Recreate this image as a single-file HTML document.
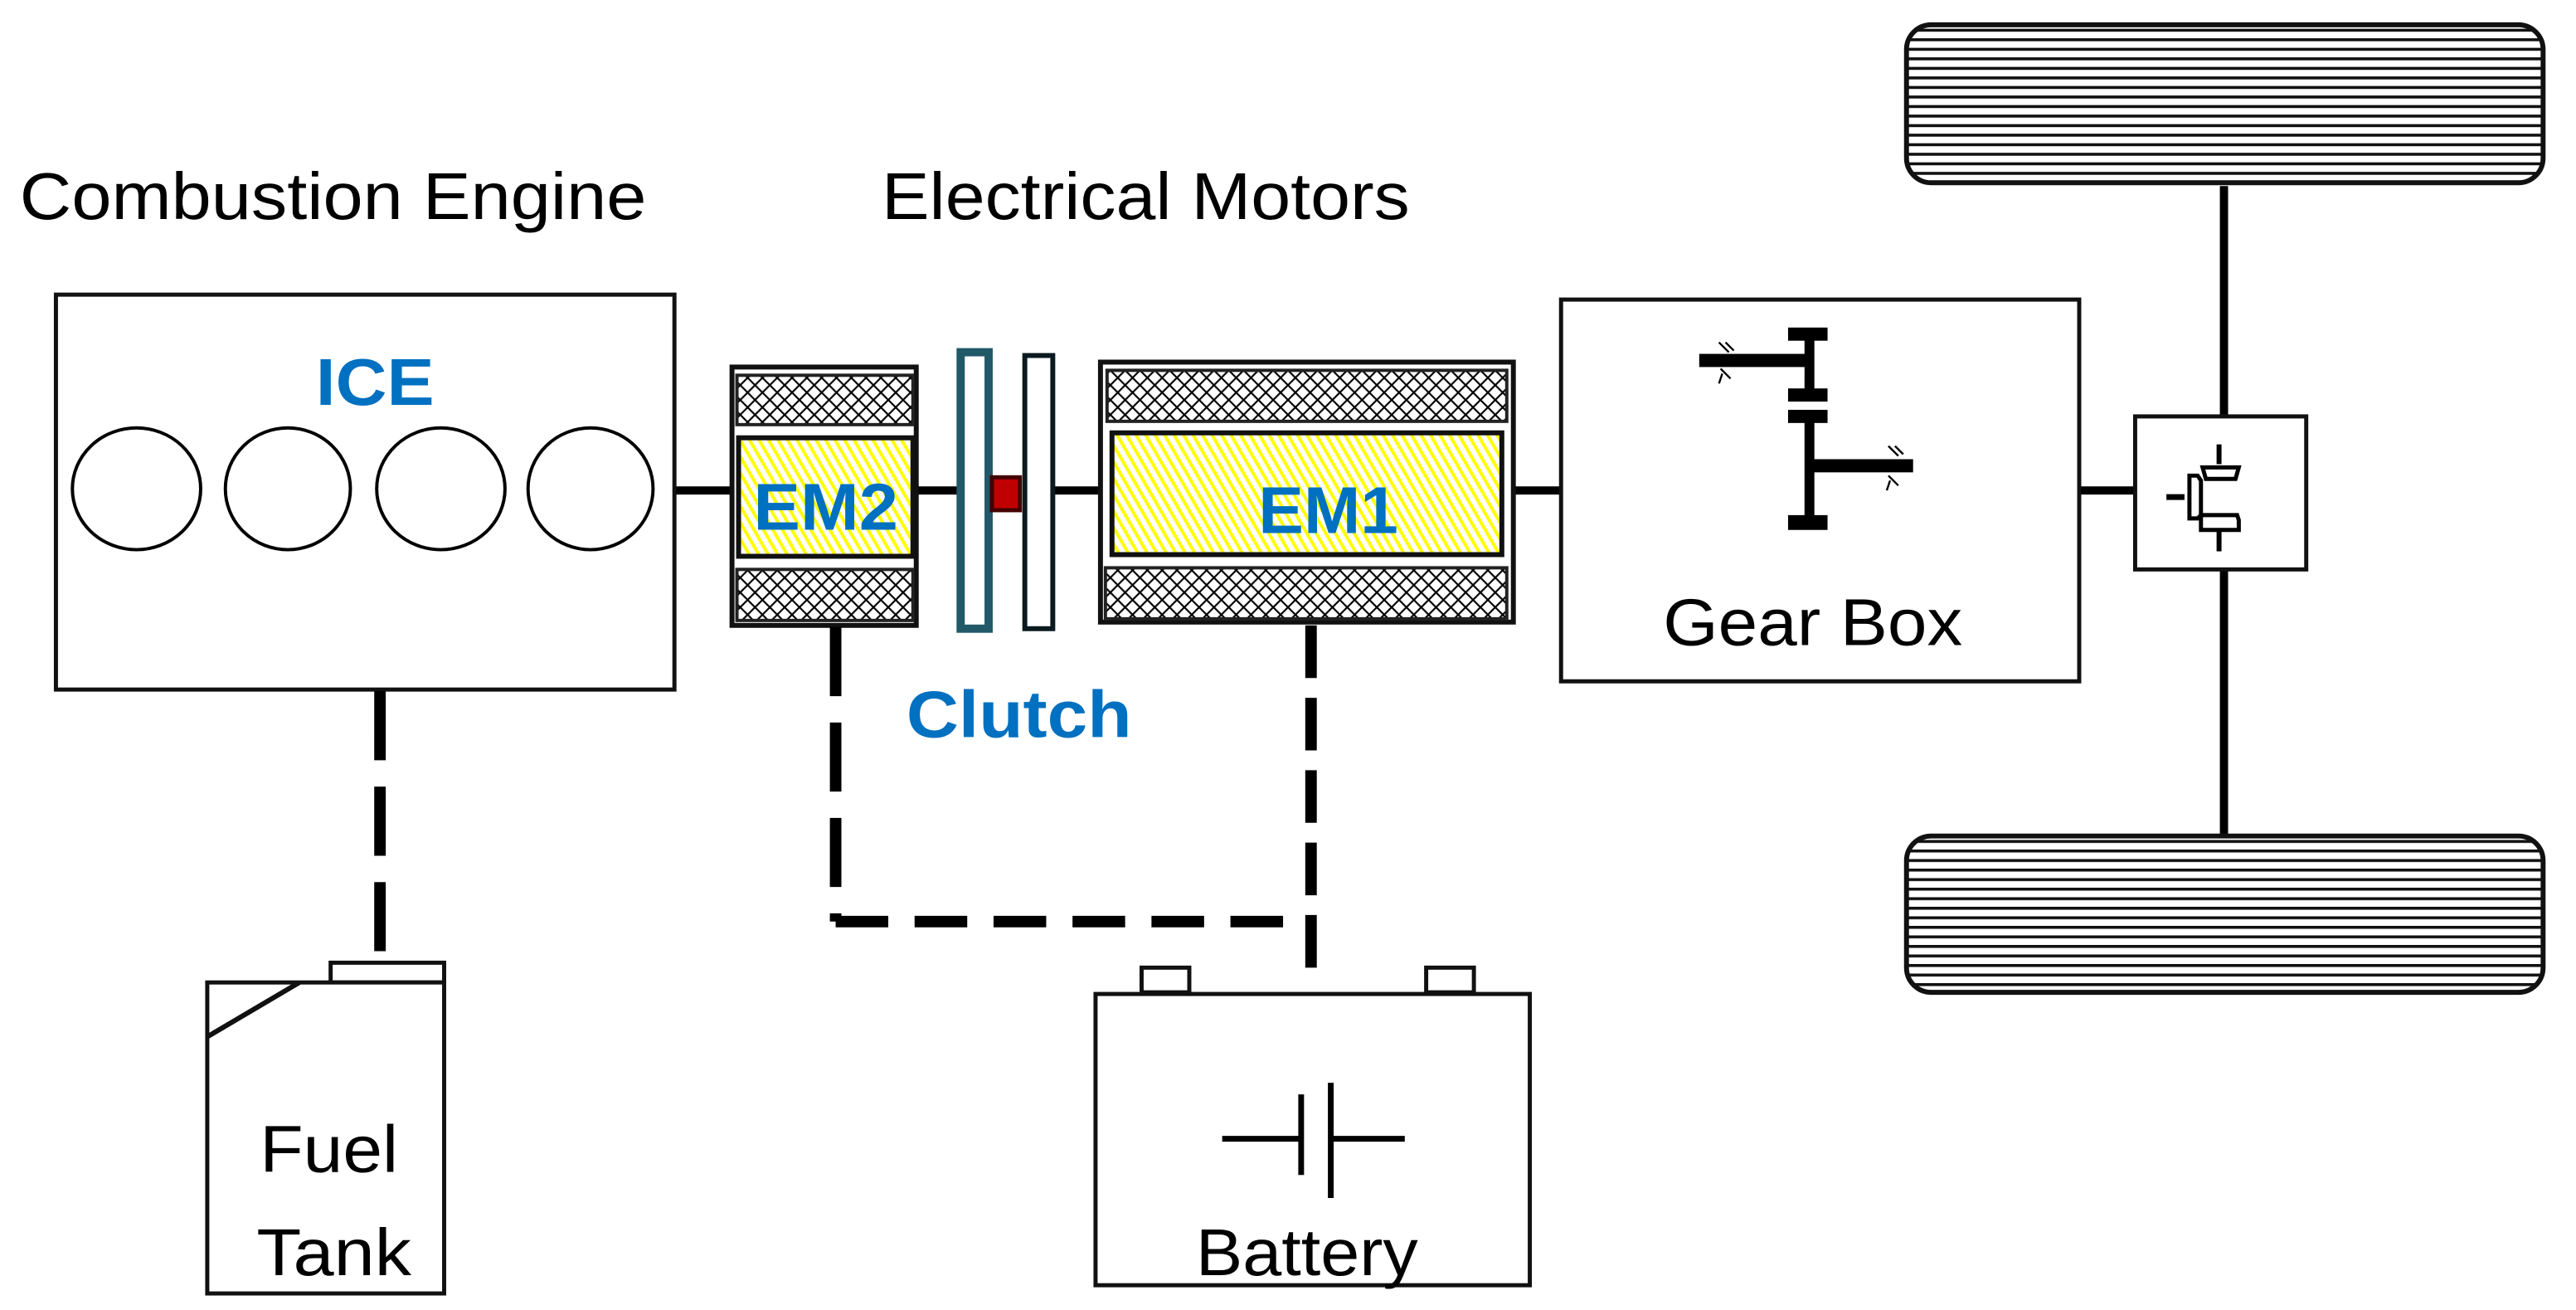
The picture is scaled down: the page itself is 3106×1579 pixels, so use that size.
<!DOCTYPE html>
<html><head><meta charset="utf-8"><style>
html,body{margin:0;padding:0;background:#fff;}
svg{display:block;}
text{font-family:"Liberation Sans",Arial,sans-serif;}
</style></head><body>
<svg width="3106" height="1579" viewBox="0 0 1566 796" xmlns="http://www.w3.org/2000/svg">
<defs>
<pattern id="xh" width="9" height="9" patternUnits="userSpaceOnUse">
<rect width="9" height="9" fill="#fff"/>
<path d="M0 0L9 9M9 0L0 9" stroke="#000" stroke-width="1.1"/>
</pattern>
<pattern id="yh" width="5" height="5" patternUnits="userSpaceOnUse" patternTransform="rotate(-30)">
<rect width="5" height="5" fill="#fff"/>
<rect width="2" height="5" fill="#ffff00"/>
</pattern>
<pattern id="tire" width="10" height="5.8" patternUnits="userSpaceOnUse">
<rect width="10" height="5.8" fill="#fff"/>
<rect y="0" width="10" height="1.8" fill="#111"/>
</pattern>
</defs>
<rect width="1566" height="796" fill="#fff"/>

<!-- titles -->
<text x="12" y="133" font-size="40" fill="#000" textLength="381" lengthAdjust="spacingAndGlyphs">Combustion Engine</text>
<text x="536" y="133" font-size="40" fill="#000" textLength="321" lengthAdjust="spacingAndGlyphs">Electrical Motors</text>

<!-- shafts -->
<g stroke="#000" stroke-width="5">
<line x1="411" y1="298" x2="445" y2="298"/>
<line x1="558" y1="298" x2="582" y2="298"/>
<line x1="641" y1="298" x2="668" y2="298"/>
<line x1="921" y1="298" x2="948" y2="298"/>
<line x1="1265" y1="298" x2="1297" y2="298"/>
<line x1="1352" y1="113" x2="1352" y2="252"/>
<line x1="1352" y1="347" x2="1352" y2="508"/>
</g>

<!-- ICE -->
<rect x="34" y="179" width="376" height="240" fill="#fff" stroke="#111" stroke-width="2.5"/>
<text x="192" y="246" font-size="40" font-weight="bold" fill="#0070C0" textLength="72" lengthAdjust="spacingAndGlyphs">ICE</text>
<g fill="none" stroke="#000" stroke-width="2">
<ellipse cx="83" cy="297" rx="39" ry="37"/>
<ellipse cx="175" cy="297" rx="38" ry="37"/>
<ellipse cx="268" cy="297" rx="39" ry="37"/>
<ellipse cx="359" cy="297" rx="38" ry="37"/>
</g>

<!-- EM2 -->
<rect x="445" y="223" width="112" height="157" fill="#fff" stroke="#111" stroke-width="3"/>
<rect x="448" y="228" width="107" height="30" fill="url(#xh)" stroke="#222" stroke-width="2"/>
<rect x="449" y="266" width="106" height="72" fill="url(#yh)" stroke="#111" stroke-width="3"/>
<rect x="448" y="346" width="107" height="31" fill="url(#xh)" stroke="#222" stroke-width="2"/>
<text x="458" y="322" font-size="40" font-weight="bold" fill="#0070C0" textLength="88" lengthAdjust="spacingAndGlyphs">EM2</text>

<!-- clutch -->
<rect x="584" y="214" width="17" height="168" fill="#fff" stroke="#215968" stroke-width="5"/>
<rect x="603" y="290" width="17" height="20" fill="#C00000" stroke="#400" stroke-width="2.5"/>
<rect x="623" y="216" width="17" height="166" fill="#fff" stroke="#0b1a20" stroke-width="3"/>
<text x="551" y="448" font-size="40" font-weight="bold" fill="#0070C0" textLength="137" lengthAdjust="spacingAndGlyphs">Clutch</text>

<!-- EM1 -->
<rect x="669" y="220" width="251" height="158" fill="#fff" stroke="#111" stroke-width="3"/>
<rect x="673" y="225" width="243" height="31" fill="url(#xh)" stroke="#222" stroke-width="2"/>
<rect x="676" y="263" width="237" height="74" fill="url(#yh)" stroke="#111" stroke-width="3"/>
<rect x="672" y="345" width="244" height="31" fill="url(#xh)" stroke="#222" stroke-width="2"/>
<text x="765" y="324" font-size="40" font-weight="bold" fill="#0070C0" textLength="85" lengthAdjust="spacingAndGlyphs">EM1</text>

<!-- Gear box -->
<rect x="949" y="182" width="315" height="232" fill="#fff" stroke="#111" stroke-width="2.5"/>
<g fill="#000">
<rect x="1097" y="200" width="6" height="42"/>
<rect x="1097" y="254" width="6" height="66"/>
<rect x="1087" y="199" width="24" height="8"/>
<rect x="1087" y="236" width="24" height="8"/>
<rect x="1087" y="249" width="24" height="8"/>
<rect x="1087" y="313" width="24" height="9"/>
<rect x="1033" y="215" width="67" height="8"/>
<rect x="1100" y="279" width="63" height="8"/>
</g>
<g stroke="#000" stroke-width="1.2">
<line x1="1045" y1="208" x2="1051" y2="214"/><line x1="1049" y1="208" x2="1054" y2="213"/>
<line x1="1046" y1="224" x2="1052" y2="230"/><line x1="1047" y1="227" x2="1045" y2="233"/>
<line x1="1148" y1="271" x2="1154" y2="277"/><line x1="1152" y1="271" x2="1157" y2="276"/>
<line x1="1148" y1="289" x2="1154" y2="295"/><line x1="1149" y1="292" x2="1147" y2="298"/>
</g>
<text x="1011" y="392" font-size="40" fill="#000" textLength="182" lengthAdjust="spacingAndGlyphs">Gear Box</text>

<!-- differential -->
<rect x="1298" y="253" width="104" height="93" fill="#fff" stroke="#111" stroke-width="2.5"/>
<g stroke="#000" fill="#fff">
<line x1="1349" y1="270" x2="1349" y2="282" stroke-width="3"/>
<line x1="1349" y1="323" x2="1349" y2="335" stroke-width="3"/>
<line x1="1317" y1="302" x2="1328" y2="302" stroke-width="3.5"/>
<path d="M1339 284h22l-2 7h-18z" stroke-width="2.5"/>
<path d="M1338 313h22l1 3v6h-23z" stroke-width="2.5"/>
<path d="M1331 289h5l2 3v21l-2 2h-5z" stroke-width="2.5"/>
</g>

<!-- wheels -->
<rect x="1159" y="15" width="387" height="96" rx="15" fill="url(#tire)" stroke="#111" stroke-width="3"/>
<rect x="1159" y="508" width="387" height="95" rx="15" fill="url(#tire)" stroke="#111" stroke-width="3"/>

<!-- dashed connectors -->
<g stroke="#000" stroke-width="7" fill="none" stroke-dasharray="42,16">
<line x1="231" y1="420" x2="231" y2="582"/>
<line x1="508" y1="381" x2="508" y2="560"/>
<line x1="508" y1="560" x2="797" y2="560" stroke-dasharray="32,16"/>
<line x1="797" y1="380" x2="797" y2="597" stroke-dasharray="32,12"/>
</g>

<!-- fuel tank -->
<rect x="201" y="585" width="69" height="12" fill="#fff" stroke="#111" stroke-width="2.5"/>
<rect x="126" y="597" width="144" height="189" fill="#fff" stroke="#111" stroke-width="2.5"/>
<line x1="126" y1="630" x2="182" y2="597" stroke="#111" stroke-width="3"/>
<text x="158" y="712" font-size="40" fill="#000" textLength="84" lengthAdjust="spacingAndGlyphs">Fuel</text>
<text x="156" y="775" font-size="40" fill="#000" textLength="94" lengthAdjust="spacingAndGlyphs">Tank</text>

<!-- battery -->
<rect x="694" y="588" width="29" height="15" fill="#fff" stroke="#111" stroke-width="2.5"/>
<rect x="867" y="588" width="29" height="15" fill="#fff" stroke="#111" stroke-width="2.5"/>
<rect x="666" y="604" width="264" height="177" fill="#fff" stroke="#111" stroke-width="2.5"/>
<g stroke="#000" stroke-width="3.5">
<line x1="743" y1="692" x2="791" y2="692"/>
<line x1="791" y1="665" x2="791" y2="714"/>
<line x1="809" y1="658" x2="809" y2="728"/>
<line x1="809" y1="692" x2="854" y2="692"/>
</g>
<text x="727" y="775" font-size="40" fill="#000" textLength="135" lengthAdjust="spacingAndGlyphs">Battery</text>
</svg>
</body></html>
